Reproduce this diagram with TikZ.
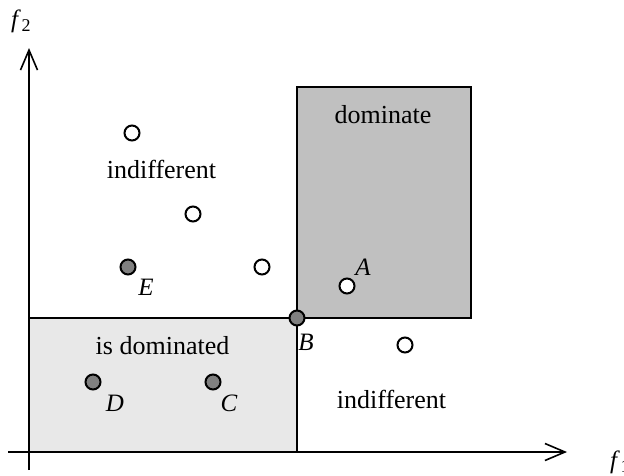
\documentclass[tikz,border=0pt]{standalone}
\usepackage{fontspec}
\setmainfont{Liberation Serif}
\usetikzlibrary{arrows.meta}
\definecolor{darkfill}{HTML}{C0C0C0}
\definecolor{lightfill}{HTML}{E8E8E8}
\definecolor{dotgray}{HTML}{808080}
\tikzset{
  region/.style={draw=black, line width=2pt},
  axis/.style={draw=black, line width=2pt, -{Straight Barb[length=20pt,width=17pt,line width=1.6pt]}},
  opendot/.style={circle, draw=black, fill=white, line width=2pt, minimum size=15pt, inner sep=0pt},
  filldot/.style={circle, draw=black, fill=dotgray, line width=2pt, minimum size=15pt, inner sep=0pt},
  word/.style={font=\fontsize{26}{30}\selectfont, anchor=base, inner sep=0pt},
  letter/.style={font=\fontsize{25}{30}\selectfont\itshape, inner sep=0pt},
  axlabel/.style={font=\fontsize{25}{30}\selectfont, inner sep=0pt},
}
\begin{document}
\begin{tikzpicture}[x=1pt,y=-1pt]
\useasboundingbox (0,0) rectangle (624,475);
% regions
\filldraw[region, fill=darkfill] (297,87) rectangle (471,318);
\filldraw[region, fill=lightfill] (29,318) rectangle (297,452);
% axes
\coordinate (yo) at (29,470);
\coordinate (yt) at (29,48);
\coordinate (xo) at (8,452);
\coordinate (xt) at (567,452);
\draw[axis] (yo) -- (yt);
\draw[axis] (xo) -- (xt);
\node[axlabel, anchor=west] (f2) at (11,21) {\textit{f}\kern0.5pt{\fontsize{18}{20}\selectfont\raisebox{-4pt}{2}}};
\node[axlabel, anchor=west] (f1) at (610,462) {\textit{f}\kern0.5pt{\fontsize{18}{20}\selectfont\raisebox{-4pt}{1}}};
% texts
\node[word] (tdom) at (383,123) {dominate};
\node[word] (tind1) at (161.5,178) {indifferent};
\node[word] (tisd) at (162.5,354) {is dominated};
\node[word] (tind2) at (391.5,408) {indifferent};
% points
\node[opendot] (p1) at (132,133) {};
\node[opendot] (p2) at (193,214) {};
\node[opendot] (p3) at (262,267) {};
\node[opendot] (pA) at (347,286) {};
\node[opendot] (p4) at (405,345) {};
\node[filldot] (pB) at (297,318) {};
\node[filldot] (pE) at (128,267) {};
\node[filldot] (pD) at (93,382) {};
\node[filldot] (pC) at (213,382) {};
% labels
\node[letter] (lA) at (363,267) {A};
\node[letter] (lB) at (306,342) {B};
\node[letter] (lC) at (229,403) {C};
\node[letter] (lD) at (115,403) {D};
\node[letter] (lE) at (146,287) {E};
\end{tikzpicture}
\end{document}
